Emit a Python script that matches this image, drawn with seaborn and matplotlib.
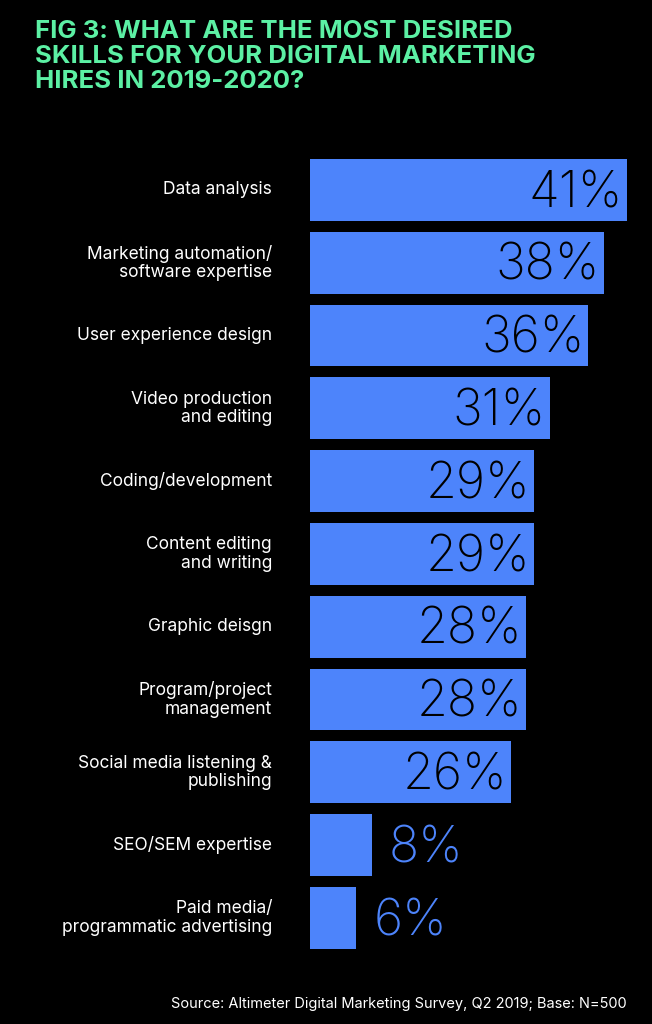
import matplotlib
matplotlib.use("Agg")
import matplotlib.pyplot as plt
import matplotlib.transforms as mtransforms
import seaborn as sns
import pandas as pd

skills = ["Data analysis", "Marketing automation/\nsoftware expertise", "User experience design",
          "Video production\nand editing", "Coding/development", "Content editing\nand writing",
          "Graphic deisgn", "Program/project\nmanagement", "Social media listening &\npublishing",
          "SEO/SEM expertise", "Paid media/\nprogrammatic advertising"]
values = [41, 38, 36, 31, 29, 29, 28, 28, 26, 8, 6]

bar_color = "#4d84fb"
title_color = "#5cf0a4"

df = pd.DataFrame({"skill": skills, "value": values})

sns.set_theme(style="white")
plt.rcParams['font.family'] = ['Inter', 'DejaVu Sans']
fig = plt.figure(figsize=(6.52, 10.24), dpi=100, facecolor="black")
W, H = 652, 1024
ax = fig.add_axes([310 / W, 1 - 955 / H, 342 / W, 805 / H])
ax.set_facecolor("black")

sns.barplot(data=df, x="value", y="skill", orient="h", color=bar_color,
            saturation=1, width=0.85, linewidth=0, ax=ax)
ax.set_xlim(0, 41 * 342 / 317)
ax.set_ylim(10.51, -0.549)
ax.set_xticks([])
ax.set_yticks([])
ax.set_xlabel("")
ax.set_ylabel("")
for s in ax.spines.values():
    s.set_visible(False)

trans = mtransforms.blended_transform_factory(fig.transFigure, ax.transData)
for i, (name, v) in enumerate(zip(skills, values)):
    ax.text(272 / W, i, name, transform=trans, ha="right", va="center",
            multialignment="right", color="white", fontsize=12.5, linespacing=1.1)
    if v > 15:
        ax.text(v - 0.5, i + 0.05, f"{v}%", ha="right", va="center",
                color="black", fontsize=36, fontweight="light")
    else:
        ax.text(v + 2.2, i + 0.05, f"{v}%", ha="left", va="center",
                color=bar_color, fontsize=36, fontweight="light")

fig.text(35 / W, 1 - 20 / H, "FIG 3: WHAT ARE THE MOST DESIRED\nSKILLS FOR YOUR DIGITAL MARKETING\nHIRES IN 2019-2020?",
         ha="left", va="top", color=title_color, fontsize=18.5, fontweight="bold", linespacing=1.1)
fig.text(627 / W, 1 - 1004 / H, "Source: Altimeter Digital Marketing Survey, Q2 2019; Base: N=500",
         ha="right", va="center", color="white", fontsize=10.5)

fig.savefig("out.png", dpi=100, facecolor="black")
